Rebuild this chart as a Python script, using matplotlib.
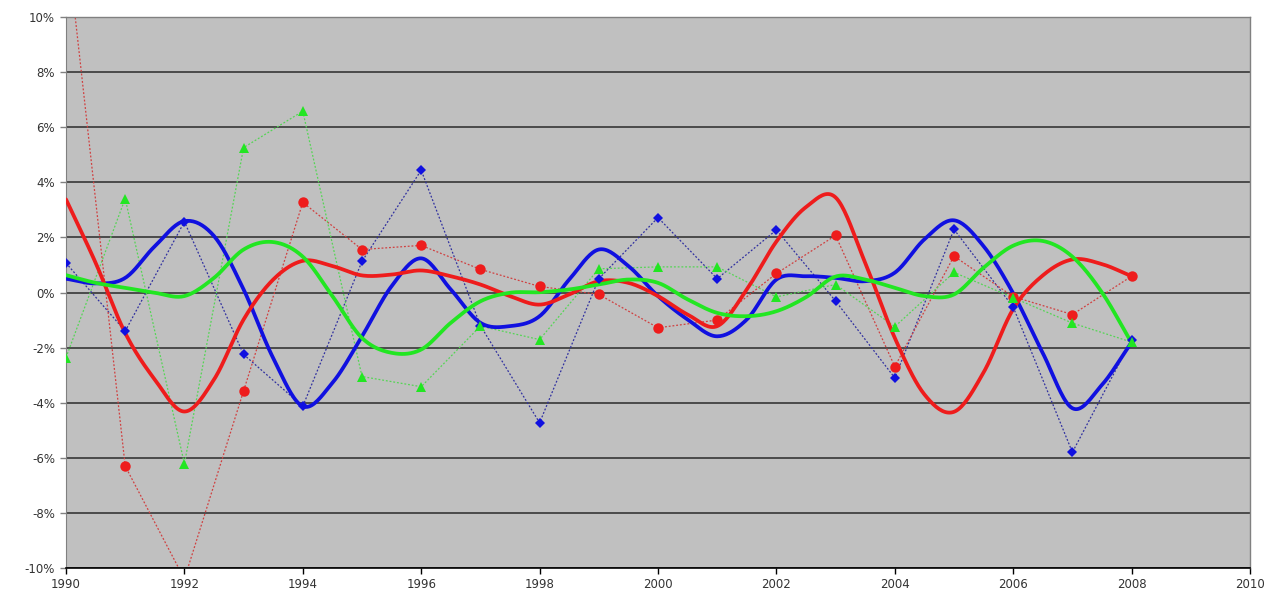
import numpy as np
import matplotlib
matplotlib.use("Agg")
import matplotlib.pyplot as plt
from matplotlib.ticker import FuncFormatter

# yearly observations (percent)
years = np.arange(1990, 2009)
blue_pts = [1.07, -1.40, 2.57, -2.25, -4.13, 1.13, 4.44, -1.20, -4.73, 0.50,
            2.72, 0.50, 2.27, -0.31, -3.10, 2.29, -0.53, -5.80, -1.72]
red_pts = [13.0, -6.30, -10.4, -3.57, 3.27, 1.56, 1.71, 0.84, 0.22, -0.07,
           -1.28, -1.00, 0.69, 2.07, -2.69, 1.32, -0.15, -0.80, 0.59]
green_pts = [-2.36, 3.41, -6.22, 5.26, 6.58, -3.05, -3.42, -1.22, -1.71, 0.86,
             0.93, 0.93, -0.16, 0.29, -1.24, 0.73, -0.19, -1.11, -1.80]

# smooth fitted curves, read every half year 1990..2008 (percent)
half_years = np.arange(1990, 2008.01, 0.5)
blue_fit = [0.50, 0.33, 0.53, 1.68, 2.59, 2.05, 0.11, -2.38, -4.13, -3.28,
            -1.59, 0.23, 1.24, 0.11, -1.10, -1.22, -0.86, 0.47, 1.56, 0.96,
            -0.13, -0.98, -1.59, -0.98, 0.47, 0.59, 0.53, 0.41, 0.72, 1.93,
            2.62, 1.68, -0.03, -2.20, -4.20, -3.35, -1.80]
red_fit = [3.38, 1.08, -1.47, -3.16, -4.32, -3.16, -0.98, 0.47, 1.15, 0.96,
           0.62, 0.65, 0.80, 0.59, 0.29, -0.13, -0.44, -0.07, 0.41, 0.35,
           -0.13, -0.80, -1.22, 0.11, 1.85, 3.10, 3.45, 1.08, -1.65, -3.70,
           -4.33, -2.90, -0.60, 0.62, 1.20, 1.03, 0.59]
green_fit = [0.63, 0.35, 0.17, -0.01, -0.13, 0.53, 1.56, 1.83, 1.30, -0.13,
             -1.65, -2.19, -2.07, -1.10, -0.32, -0.01, 0.01, 0.11, 0.29, 0.47,
             0.35, -0.25, -0.74, -0.86, -0.68, -0.17, 0.58, 0.47, 0.17, -0.13,
             -0.07, 0.90, 1.70, 1.87, 1.30, 0.00, -1.83]

x_ticks = list(range(1990, 2011, 2))
y_ticks = list(range(-10, 11, 2))


def smooth(x, y, n=20):
    """Catmull-Rom curve through the points (like a spreadsheet smoothed line)"""
    x = np.asarray(x, float)
    y = np.asarray(y, float)
    px = np.concatenate([[2 * x[0] - x[1]], x, [2 * x[-1] - x[-2]]])
    py = np.concatenate([[2 * y[0] - y[1]], y, [2 * y[-1] - y[-2]]])
    t = np.linspace(0, 1, n, endpoint=False)
    xs, ys = [], []
    for i in range(1, len(px) - 2):
        for p, out in ((px, xs), (py, ys)):
            p0, p1, p2, p3 = p[i - 1], p[i], p[i + 1], p[i + 2]
            out.append(0.5 * (2 * p1 + (-p0 + p2) * t
                              + (2 * p0 - 5 * p1 + 4 * p2 - p3) * t ** 2
                              + (-p0 + 3 * p1 - 3 * p2 + p3) * t ** 3))
    xs.append([x[-1]])
    ys.append([y[-1]])
    return np.concatenate(xs), np.concatenate(ys)


fig = plt.figure(figsize=(12.86, 6.01), dpi=100)
ax = fig.add_axes([66 / 1286, 1 - 568 / 601, (1250 - 66) / 1286, (568 - 17) / 601])
ax.set_facecolor('#c0c0c0')

dot = (0, (1.5, 1.5))
series = [
    (blue_pts, blue_fit, '#1010e0', '#3030a0', 'D', 5),
    (red_pts, red_fit, '#ee1c1c', '#d04040', 'o', 7.5),
    (green_pts, green_fit, '#22e622', '#55d555', '^', 7.5),
]

# dotted yearly lines
for pts, fit, c, dc, m, ms in series:
    ax.plot(years, pts, color=dc, lw=0.9, linestyle=dot, zorder=2)

# thick smoothed curves
for pts, fit, c, dc, m, ms in series:
    sx, sy = smooth(half_years, fit)
    ax.plot(sx, sy, color=c, lw=2.7, solid_capstyle='round', zorder=3)

# markers
for pts, fit, c, dc, m, ms in series:
    ax.plot(years, pts, linestyle='none', marker=m, ms=ms, color=c,
            markeredgewidth=0, zorder=4)

ax.set_xlim(1990, 2010)
ax.set_ylim(-10, 10)
ax.set_xticks(x_ticks)
ax.set_yticks(y_ticks)
ax.yaxis.set_major_formatter(FuncFormatter(lambda v, p: f'{v:.0f}%'))
ax.grid(axis='y', color='#2a2a2a', lw=1.1, zorder=1)
ax.set_axisbelow(True)

for s in ['top', 'right']:
    ax.spines[s].set_color('#808080')
    ax.spines[s].set_linewidth(1.0)
ax.spines['left'].set_color('#808080')
ax.spines['bottom'].set_color('#000000')
ax.spines['bottom'].set_linewidth(1.2)
ax.tick_params(axis='x', length=4, width=1, color='#000000', labelsize=8.5,
               labelcolor='#333333', pad=3)
ax.tick_params(axis='y', length=4, width=1, color='#808080', labelsize=8.5,
               labelcolor='#333333', pad=4)

fig.savefig('out.png', dpi=100, facecolor='white')
